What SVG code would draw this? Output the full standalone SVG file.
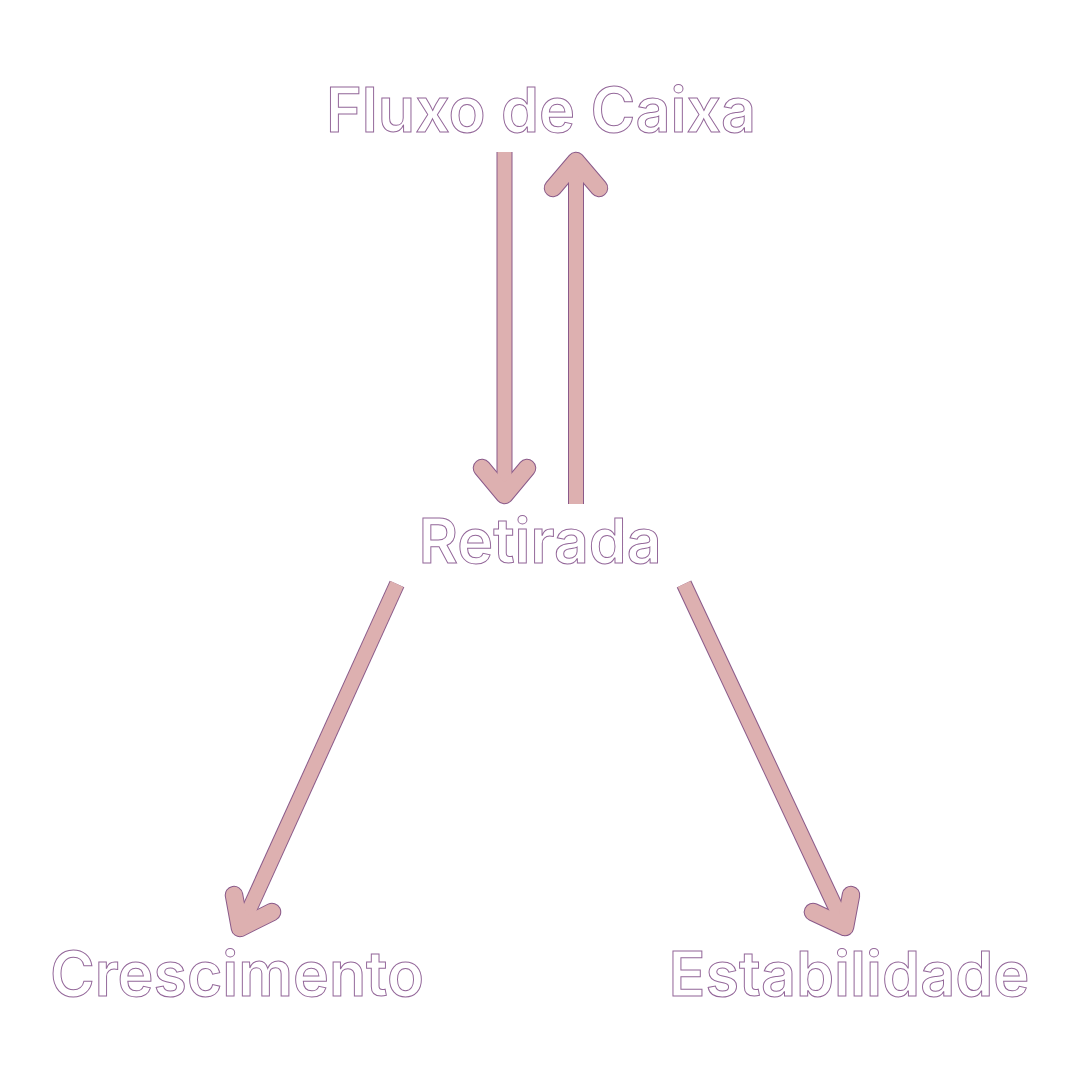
<svg xmlns="http://www.w3.org/2000/svg" width="1080" height="1080" viewBox="0 0 1080 1080">
<style>
.bg{fill:#ffffff}
.lbl{font-family:Inter,"Noto Sans","Liberation Sans",sans-serif;font-size:62px;font-weight:600;fill:#ffffff;stroke:#94689a;stroke-width:1;text-anchor:middle}
.o{fill:none;stroke:#8a5a8a}
.f{fill:none;stroke:#ddb0b0}
.shaft{stroke-linecap:butt}
.o.shaft{stroke-width:16}
.f.shaft{stroke-width:14}
.head{stroke-linecap:round;stroke-linejoin:round}
.o.head{stroke-width:18.5}
.f.head{stroke-width:16.5}
</style>
<rect class="bg" x="0" y="0" width="1080" height="1080"/>
<g id="connectors">
  <g id="outlines">
    <path class="o shaft" d="M504.5,152 L504.5,490"/>
    <path class="o head" d="M482,468 L504.5,495 L527,468"/>
    <path class="o shaft" d="M576,504 L576,168"/>
    <path class="o head" d="M553,188 L576,161 L599,188"/>
    <path class="o shaft" d="M397,584 L244,921"/>
    <path class="o head" d="M234,895 L240,928 L272,912"/>
    <path class="o shaft" d="M684,584 L841,919"/>
    <path class="o head" d="M851,895 L845,927 L813,912"/>
  </g>
  <g id="fills">
    <path class="f shaft" d="M504.5,152 L504.5,490"/>
    <path class="f head" d="M482,468 L504.5,495 L527,468"/>
    <path class="f shaft" d="M576,504 L576,168"/>
    <path class="f head" d="M553,188 L576,161 L599,188"/>
    <path class="f shaft" d="M397,584 L244,921"/>
    <path class="f head" d="M234,895 L240,928 L272,912"/>
    <path class="f shaft" d="M684,584 L841,919"/>
    <path class="f head" d="M851,895 L845,927 L813,912"/>
  </g>
</g>
<g id="node-fluxo"><text class="lbl" x="541" y="132" textLength="430" lengthAdjust="spacingAndGlyphs">Fluxo de Caixa</text></g>
<g id="node-retirada"><text class="lbl" x="540" y="563" textLength="243" lengthAdjust="spacingAndGlyphs">Retirada</text></g>
<g id="node-crescimento"><text class="lbl" x="237" y="996" textLength="374" lengthAdjust="spacingAndGlyphs">Crescimento</text></g>
<g id="node-estabilidade"><text class="lbl" x="849" y="996" textLength="361" lengthAdjust="spacingAndGlyphs">Estabilidade</text></g>
</svg>
